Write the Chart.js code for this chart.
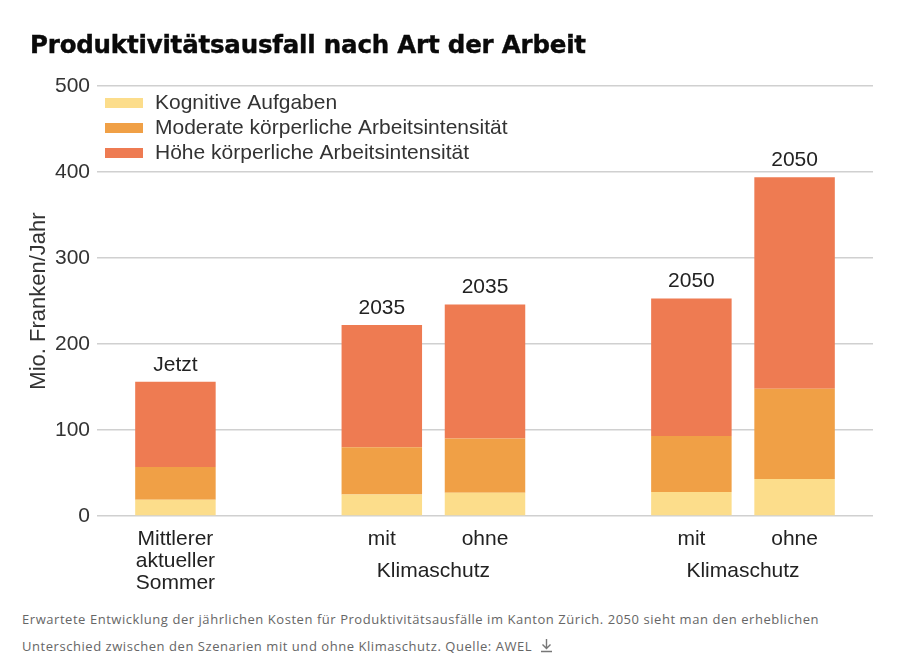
<!DOCTYPE html>
<html>
<head>
<meta charset="utf-8">
<script src="https://cdn.jsdelivr.net/npm/chart.js@4"></script>
<style>
  body { margin: 0; background: #fff; }
  #wrap { position: relative; width: 900px; height: 671px; overflow: hidden; }
  #title { position: absolute; left: 30px; top: 30px; margin: 0; font: bold 24.5px "DejaVu Sans", sans-serif; color: #0a0a0a; letter-spacing: -0.2px; -webkit-text-stroke: 0.4px #0a0a0a; }
  #chart { position: absolute; left: 0; top: 0; }
  #caption { position: absolute; left: 22px; top: 606px; font: 13px "Open Sans", sans-serif; letter-spacing: 0.55px; color: #666; line-height: 27px; }
  #caption svg { vertical-align: -2px; margin-left: 8px; }
</style>
</head>
<body>
<div id="wrap">
  <canvas id="chart" width="900" height="600"></canvas>
  <h1 id="title">Produktivitätsausfall nach Art der Arbeit</h1>
  <div id="caption">Erwartete Entwicklung der jährlichen Kosten für Produktivitätsausfälle im Kanton Zürich. 2050 sieht man den erheblichen<br>Unterschied zwischen den Szenarien mit und ohne Klimaschutz. Quelle: AWEL<svg width="13" height="15" viewBox="0 0 13 15"><path d="M6.5 1v9M2.5 6.5l4 4 4-4M1 13.5h11" stroke="#777" stroke-width="1.4" fill="none"/></svg></div>
</div>
<script>
// Balkenpositionen (Luecken zwischen den Gruppen)
const xPositions = [0, 2, 3, 5, 6];
const xLabels = [["Mittlerer", "aktueller", "Sommer"], "mit", "ohne", "mit", "ohne"];
const topLabels = ["Jetzt", "2035", "2035", "2050", "2050"];
const groupLabels = ["Klimaschutz", "Klimaschutz"];
const groupMembers = [[1, 2], [3, 4]];

const seriesNames = ["Kognitive Aufgaben", "Moderate körperliche Arbeitsintensität", "Höhe körperliche Arbeitsintensität"];
const kognitiv = [19, 25, 27, 28, 43];
const moderat = [38, 55, 63, 65, 105];
const hoch = [99, 142, 156, 160, 246];
const colors = ["#fcdd8b", "#f0a046", "#ee7b52"];

const yTicks = [0, 100, 200, 300, 400, 500];

const FONT = "'Liberation Sans', Arial, sans-serif";
const toPoints = arr => arr.map((v, i) => ({ x: xPositions[i], y: v }));

const extras = {
    id: "extras",
    afterDatasetsDraw(chart) {
        const ctx = chart.ctx;
        const top = chart.getDatasetMeta(2).data;
        ctx.save();
        ctx.fillStyle = "#222";
        ctx.textAlign = "center";
        ctx.textBaseline = "alphabetic";
        ctx.font = "21px " + FONT;
        top.forEach((bar, i) => ctx.fillText(topLabels[i], bar.x, bar.y - 11));

        // Gruppenbeschriftung unter der x-Achse
        const bottom = chart.chartArea.bottom;
        ctx.textBaseline = "middle";
        groupMembers.forEach((pair, g) => {
            const x = (top[pair[0]].x + top[pair[1]].x) / 2;
            ctx.fillText(groupLabels[g], x, bottom + 55);
        });

        // Legende im Diagramm
        ctx.textAlign = "left";
        const lx = chart.chartArea.left + 8;
        seriesNames.forEach((name, i) => {
            const y = chart.chartArea.top + 17 + i * 25;
            ctx.fillStyle = colors[i];
            ctx.fillRect(lx, y - 5, 38, 10);
            ctx.fillStyle = "#333";
            ctx.fillText(name, lx + 50, y);
        });
        ctx.restore();
    }
};

new Chart(document.getElementById("chart"), {
    type: "bar",
    data: {
        datasets: [
            { label: seriesNames[0], data: toPoints(kognitiv), backgroundColor: colors[0] },
            { label: seriesNames[1], data: toPoints(moderat), backgroundColor: colors[1] },
            { label: seriesNames[2], data: toPoints(hoch), backgroundColor: colors[2] }
        ]
    },
    options: {
        responsive: false,
        animation: false,
        barPercentage: 0.78,
        categoryPercentage: 1,
        layout: { padding: { left: 26, right: 27, top: 86, bottom: 0 } },
        plugins: { legend: { display: false }, tooltip: { enabled: false } },
        scales: {
            x: {
                type: "linear",
                stacked: true,
                offset: false,
                min: -0.76,
                max: 6.76,
                grid: { display: false },
                border: { display: false },
                afterBuildTicks: s => { s.ticks = xPositions.map(v => ({ value: v })); },
                afterFit: s => { s.height = 84; },
                ticks: {
                    autoSkip: false,
                    maxRotation: 0,
                    padding: 4,
                    color: "#222",
                    font: { size: 21, family: FONT, lineHeight: 1.05 },
                    callback: v => xLabels[xPositions.indexOf(v)]
                }
            },
            y: {
                stacked: true,
                min: 0,
                max: 500,
                afterBuildTicks: s => { s.ticks = yTicks.map(v => ({ value: v })); },
                afterFit: s => { s.width = 71; },
                grid: { color: "#d0d0d0", lineWidth: 1.6, drawTicks: false },
                border: { display: false },
                title: {
                    display: true,
                    text: "Mio. Franken/Jahr",
                    color: "#333",
                    padding: 0,
                    font: { size: 22, family: FONT }
                },
                ticks: {
                    padding: 7,
                    color: "#333",
                    font: { size: 21, family: FONT }
                }
            }
        }
    },
    plugins: [extras]
});
</script>
</body>
</html>
